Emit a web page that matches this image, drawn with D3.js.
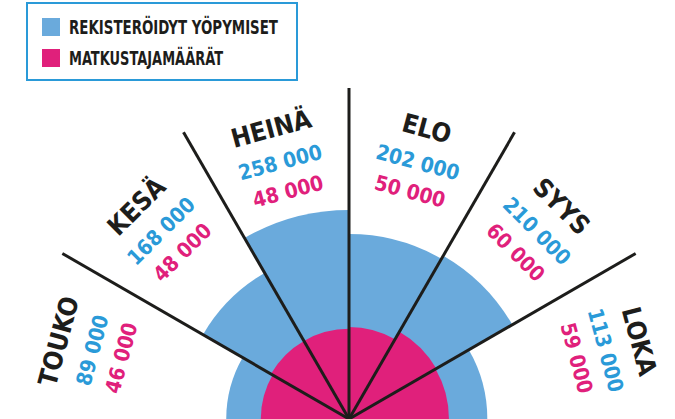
<!DOCTYPE html>
<html lang="fi">
<head>
  <meta charset="UTF-8">
  <title>Yöpymiset ja matkustajamäärät</title>
  <script src="https://d3js.org/d3.v7.min.js"></script>
  <style>
    body { margin: 0; background: #ffffff; }
    svg { display: block; }
    .legend text, .month, .val {
      font-family: 'DejaVu Sans Condensed', 'DejaVu Sans', sans-serif;
      font-weight: 700;
    }
    .legend text { font-size: 20px; fill: #1d1d1b; }
    .month { font-size: 26px; fill: #1d1d1b; }
    .val { font-size: 21px; }
  </style>
</head>
<body>
  <svg id="chart" width="675" height="419"></svg>

  <script>
    const months = ["TOUKO", "KESÄ", "HEINÄ", "ELO", "SYYS", "LOKA"];
    const registered = [89000, 168000, 258000, 202000, 210000, 113000];
    const passengers = [46000, 48000, 48000, 50000, 60000, 59000];
    const legendLabels = ["REKISTERÖIDYT YÖPYMISET", "MATKUSTAJAMÄÄRÄT"];

    const blueFill = "#6aaadc", blueText = "#2a9ad8", pink = "#e0207b", ink = "#1d1d1b";

    const svg = d3.select("#chart");
    const cx = 349, cy = 419;

    // area-true: radius grows with sqrt of the value
    const r = d3.scaleSqrt().domain([0, 258000]).range([0, 209]);

    // half circle, 30 degrees per month, left to right
    const angle = d3.scaleBand().domain(months).range([-Math.PI / 2, Math.PI / 2]);
    const bw = angle.bandwidth();

    const g = svg.append("g").attr("transform", `translate(${cx},${cy})`);

    const arc = d3.arc().innerRadius(0);

    g.selectAll(".reg")
      .data(months)
      .join("path")
      .attr("class", "reg")
      .attr("fill", blueFill)
      .attr("d", (m, i) => arc({startAngle: angle(m), endAngle: angle(m) + bw, outerRadius: r(registered[i])}));

    g.selectAll(".pas")
      .data(months)
      .join("path")
      .attr("class", "pas")
      .attr("fill", pink)
      .attr("d", (m, i) => arc({startAngle: angle(m), endAngle: angle(m) + bw, outerRadius: r(passengers[i])}));

    // divider lines between months
    const lineLen = 331;
    g.selectAll(".div")
      .data(months.slice(1))
      .join("line")
      .attr("class", "div")
      .attr("stroke", ink)
      .attr("stroke-width", 3)
      .attr("x1", 0).attr("y1", 0)
      .attr("x2", m => lineLen * Math.sin(angle(m)))
      .attr("y2", m => -lineLen * Math.cos(angle(m)));

    const fmt = v => d3.format(",")(v).replace(/,/g, " ");
    const mid = m => angle(m) + bw / 2;
    const deg = a => a * 180 / Math.PI;

    function place(rad) {
      return m => `translate(${rad * Math.sin(mid(m))},${-rad * Math.cos(mid(m))}) rotate(${deg(mid(m))})`;
    }

    g.selectAll(".month")
      .data(months)
      .join("text")
      .attr("class", "month")
      .attr("text-anchor", "middle")
      .attr("dy", "0.36em")
      .attr("transform", place(301))
      .text(m => m);

    g.selectAll(".val-reg")
      .data(months)
      .join("text")
      .attr("class", "val val-reg")
      .attr("fill", blueText)
      .attr("text-anchor", "middle")
      .attr("dy", "0.36em")
      .attr("transform", place(266))
      .text((m, i) => fmt(registered[i]));

    g.selectAll(".val-pas")
      .data(months)
      .join("text")
      .attr("class", "val val-pas")
      .attr("fill", pink)
      .attr("text-anchor", "middle")
      .attr("dy", "0.36em")
      .attr("transform", place(236))
      .text((m, i) => fmt(passengers[i]));

    // Legend
    const legend = svg.append("g").attr("class", "legend");
    legend.append("rect")
      .attr("x", 27).attr("y", 3).attr("width", 270).attr("height", 77)
      .attr("fill", "#fff").attr("stroke", blueText).attr("stroke-width", 2);

    const legendColors = [blueFill, pink];
    const legendWidths = [209, 154];
    legendLabels.forEach((lab, i) => {
      const yoff = 18 + i * 31;
      legend.append("rect")
        .attr("x", 42).attr("y", yoff).attr("width", 18).attr("height", 18)
        .attr("fill", legendColors[i]);
      legend.append("text")
        .attr("x", 69).attr("y", yoff + 16)
        .attr("textLength", legendWidths[i])
        .attr("lengthAdjust", "spacingAndGlyphs")
        .text(lab);
    });
  </script>
</body>
</html>
